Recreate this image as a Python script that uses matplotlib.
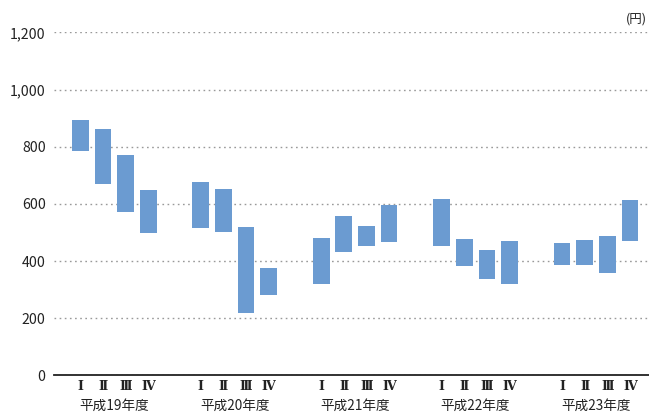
import numpy as np
import matplotlib
matplotlib.use("Agg")
import matplotlib.pyplot as plt

plt.rcParams['font.family'] = ['Noto Sans CJK JP', 'DejaVu Sans']

# ── data (円) ─────────────────────────────
years    = ["平成19年度", "平成20年度", "平成21年度", "平成22年度", "平成23年度"]
quarters = ["Ⅰ", "Ⅱ", "Ⅲ", "Ⅳ"]
highs = [
    [893, 862, 771, 649],
    [677, 652, 520, 376],
    [481, 558, 523, 596],
    [617, 478, 439, 471],
    [464, 474, 488, 614],
]
lows = [
    [786, 671, 573, 500],
    [516, 503, 220, 283],
    [321, 433, 454, 468],
    [454, 384, 339, 321],
    [388, 388, 360, 472],
]

BAR_COLOR = "#6b9bd1"
step  = 0.188
width = 0.139

fig = plt.figure(figsize=(6.49, 4.15), dpi=100)
ax = fig.add_axes([0.0832, 0.0952, 0.9168, 0.8268])

xs, labels = [], []
for g, year in enumerate(years):
    for q in range(4):
        x = g + (q - 1.5) * step
        lo, hi = lows[g][q], highs[g][q]
        ax.bar(x, hi - lo, bottom=lo, width=width, color=BAR_COLOR, zorder=3)
        xs.append(x)
        labels.append(quarters[q])
    ax.text(g, -0.087, year, transform=ax.get_xaxis_transform(),
            ha="center", va="center", fontsize=9.8, color="#222222")

ax.set_xlim(-0.5, 4.44)
ax.set_ylim(0, 1200)
ax.set_yticks(range(0, 1201, 200))
ax.set_yticklabels([f"{v:,}" for v in range(0, 1201, 200)], fontsize=10.2, color="#222222")
ax.set_xticks(xs)
ax.set_xticklabels(labels, fontsize=9, color="#222222",
                   family=["DejaVu Serif Condensed", "DejaVu Serif"], fontweight="bold")
ax.tick_params(axis="both", length=0)
ax.tick_params(axis="x", pad=3)
ax.tick_params(axis="y", pad=6)

ax.grid(True, axis="y", linestyle=(0, (1.2, 2.5)), color="#999999", linewidth=1, zorder=0)
for s in ["top", "right", "left"]:
    ax.spines[s].set_visible(False)
ax.spines["bottom"].set_color("#222222")
ax.spines["bottom"].set_linewidth(1.3)

fig.text(0.997, 0.955, "(円)", ha="right", va="center", fontsize=9, color="#222222")

plt.savefig("out.png", dpi=100)
